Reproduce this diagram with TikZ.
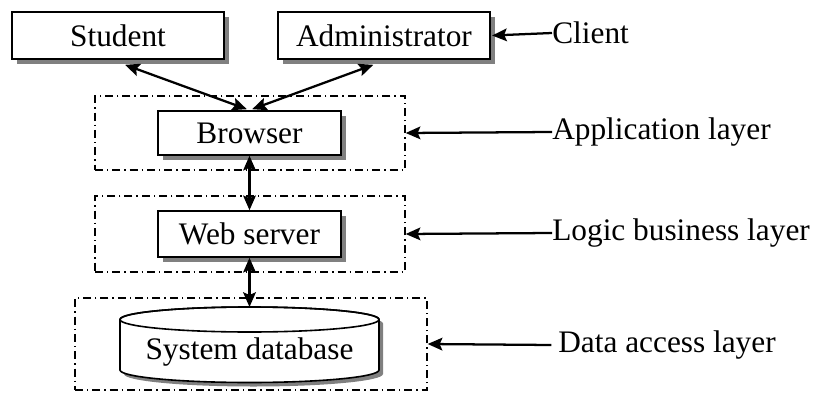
\documentclass[tikz,border=0pt]{standalone}
\usepackage{fontspec}
\setmainfont{Liberation Serif}
\usetikzlibrary{arrows.meta,shadows}
\begin{document}
\begin{tikzpicture}[x=0.75pt,y=-0.75pt,
  font=\fontsize{23.5}{28}\selectfont,
  box/.style={draw,line width=1.2pt,fill=white,inner sep=0pt,
    drop shadow={shadow xshift=3.75pt,shadow yshift=-3.75pt,fill=black!50,opacity=1}},
  layer/.style={draw,line width=1pt,inner sep=0pt,
    dash pattern=on 6pt off 3pt on 1pt off 3pt},
  lbl/.style={anchor=west,inner sep=0pt},
  tip/.tip={Stealth[length=11pt,width=9.5pt,inset=2pt]},
  conn/.style={line width=1.7pt,tip-tip},
  pointer/.style={line width=1.7pt,-tip}]
\useasboundingbox (0,0) rectangle (816,392);
% layer boxes
\node[layer,minimum width=232.5pt,minimum height=55.5pt] (applayer) at (250,133) {};
\node[layer,minimum width=232.5pt,minimum height=57pt] (logiclayer) at (250,234) {};
\node[layer,minimum width=264pt,minimum height=69pt] (datalayer) at (251,344) {};
% boxes
\node[box,minimum width=159pt,minimum height=35.25pt] (student) at (118,35.5) {Student};
\node[box,minimum width=159pt,minimum height=35.25pt] (admin) at (384,35.5) {Administrator};
\node[box,minimum width=137.25pt,minimum height=33pt] (browser) at (249.5,133) {Browser};
\node[box,minimum width=137.25pt,minimum height=34.5pt] (web) at (249.5,234) {Web server};
% cylinder
\fill[black!50] (124,323.5) -- (124,374) arc[start angle=180,end angle=360,x radius=97.125pt,y radius=9.375pt]
  -- (383,323.5) arc[start angle=0,end angle=180,x radius=97.125pt,y radius=9.375pt] -- cycle;
\filldraw[fill=white,line width=1.2pt] (120,319.5) -- (120,370) arc[start angle=180,end angle=360,x radius=97.125pt,y radius=9.375pt]
  -- (379,319.5) arc[start angle=0,end angle=180,x radius=97.125pt,y radius=9.375pt] -- cycle;
\draw[line width=1.2pt] (249.5,319.5) ellipse[x radius=97.125pt,y radius=9.375pt];
\coordinate (dbtop) at (249.5,307);
\node[inner sep=0pt] (db) at (249.5,352) {System database};
% labels
\node[lbl] (client) at (552,33) {Client};
\node[lbl] (applbl) at (552,132) {Application layer};
\node[lbl] (logiclbl) at (552,233) {Logic business layer};
\node[lbl] (datalbl) at (558,345) {Data access layer};
% connectors
\draw[conn] ([xshift=5.25pt,yshift=-3.75pt]student.south) -- ([xshift=-2pt,yshift=0.75pt]browser.north);
\draw[conn] ([xshift=-8pt,yshift=-3.75pt]admin.south) -- ([xshift=2pt,yshift=0.75pt]browser.north);
\draw[conn] (browser.south) -- (web.north);
\draw[conn] (web.south) -- (dbtop);
\draw[pointer] (client.west) -- ([xshift=1pt]admin.east);
\draw[pointer] (applbl.west) -- (applayer.east);
\draw[pointer] (logiclbl.west) -- (logiclayer.east);
\draw[pointer] ([xshift=-5pt]datalbl.west) -- (datalayer.east);
\end{tikzpicture}
\end{document}
